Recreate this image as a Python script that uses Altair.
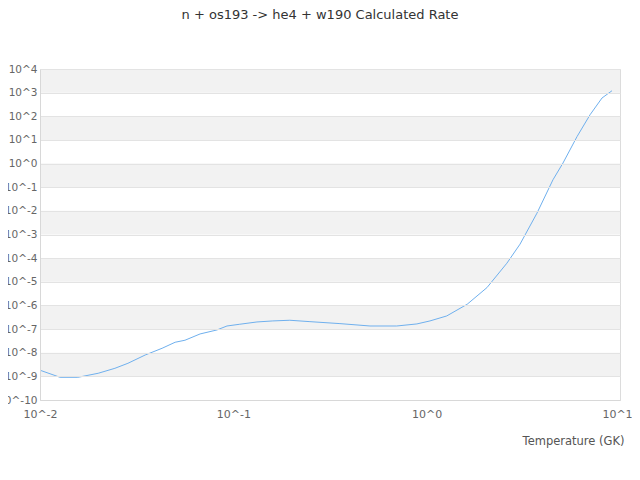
import altair as alt
import pandas as pd

# Temperature (GK) and calculated rate
temperature = [0.01, 0.0127, 0.0157, 0.02, 0.0244, 0.0285, 0.035, 0.0428, 0.05,
               0.0562, 0.0673, 0.0823, 0.0927, 0.108, 0.1325, 0.16, 0.196, 0.249,
               0.356, 0.509, 0.70, 0.89, 1.04, 1.27, 1.62, 2.05, 2.6, 3.04, 3.72,
               4.5, 5.07, 6.0, 7.0, 8.07, 9.09]
rate = [1.82e-9, 9.1e-10, 9.1e-10, 1.35e-9, 2.19e-9, 3.57e-9, 8.0e-9, 1.54e-8, 2.77e-8,
        3.37e-8, 6.22e-8, 9.18e-8, 1.35e-7, 1.60e-7, 2.0e-7, 2.21e-7, 2.36e-7, 2.06e-7,
        1.70e-7, 1.35e-7, 1.35e-7, 1.65e-7, 2.21e-7, 3.59e-7, 1.12e-6, 5.67e-6, 6.12e-5,
        3.9e-4, 8.0e-3, 0.206, 1.05, 14.0, 116.0, 592.0, 1205.0]

# alternating background bands (decade boundaries)
band_top = [1e4, 1e2, 1e0, 1e-2, 1e-4, 1e-6, 1e-8]
band_bottom = [1e3, 1e1, 1e-1, 1e-3, 1e-5, 1e-7, 1e-9]
x_start = 0.01
x_end = 10.0

y_ticks = [1e-10, 1e-9, 1e-8, 1e-7, 1e-6, 1e-5, 1e-4, 1e-3, 1e-2, 1e-1,
           1e0, 1e1, 1e2, 1e3, 1e4]
x_ticks = [0.01, 0.1, 1.0, 10.0]

line_df = pd.DataFrame({"T": temperature, "rate": rate})
band_df = pd.DataFrame({"top": band_top, "bottom": band_bottom,
                        "x0": [x_start] * len(band_top), "x1": [x_end] * len(band_top)})

FONT = "DejaVu Sans"
label_expr = "'10^' + round(log(datum.value)/LN10)"

x_scale = alt.Scale(type="log", domain=[x_start, x_end], nice=False)
y_scale = alt.Scale(type="log", domain=[1e-10, 1e4], nice=False)

x_axis = alt.Axis(values=x_ticks, labelExpr=label_expr, grid=False, ticks=False, tickSize=0,
                  labelPadding=8, labelFont=FONT, labelFontSize=11, labelColor="#666",
                  labelOffset={"expr": "datum.value >= 10 ? -3 : 0"},
                  domainColor="#d8d8d8", title="Temperature (GK)", titleFont=FONT,
                  titleFontSize=11.5, titleFontWeight="normal", titleColor="#555",
                  titleAlign="right", titleX=584, titleY=41, titleBaseline="middle",
                  labelFlush=False, labelOverlap=False, zindex=1)
y_axis = alt.Axis(values=y_ticks, labelExpr=label_expr, grid=True, gridColor="#e3e3e3",
                  ticks=False, tickSize=0, labelPadding=3, labelFont=FONT, labelFontSize=10.5,
                  labelColor="#666", domainColor="#d8d8d8", title=None,
                  labelOverlap=False, labelFlush=False, zindex=1)

bands = alt.Chart(band_df).mark_rect(color="#f2f2f2").encode(
    x=alt.X("x0:Q", scale=x_scale, axis=x_axis),
    x2="x1:Q",
    y=alt.Y("top:Q", scale=y_scale, axis=y_axis),
    y2="bottom:Q",
)

line = alt.Chart(line_df).mark_line(color="#6fb0ee", strokeWidth=1).encode(
    x=alt.X("T:Q", scale=x_scale, axis=x_axis),
    y=alt.Y("rate:Q", scale=y_scale, axis=y_axis),
)

chart = alt.layer(bands, line).properties(
    width=580,
    height=331,
    autosize=alt.AutoSizeParams(type="none"),
    padding={"left": 32, "top": 61, "right": 12, "bottom": 50},
    title=alt.TitleParams(text="n + os193 -> he4 + w190 Calculated Rate", font=FONT,
                          fontSize=13, fontWeight="normal", color="#333",
                          anchor="middle", offset=42, dx=-10),
).configure_view(stroke="#dcdcdc")

chart.save("out.html", embed_options={"renderer": "svg", "actions": False})
